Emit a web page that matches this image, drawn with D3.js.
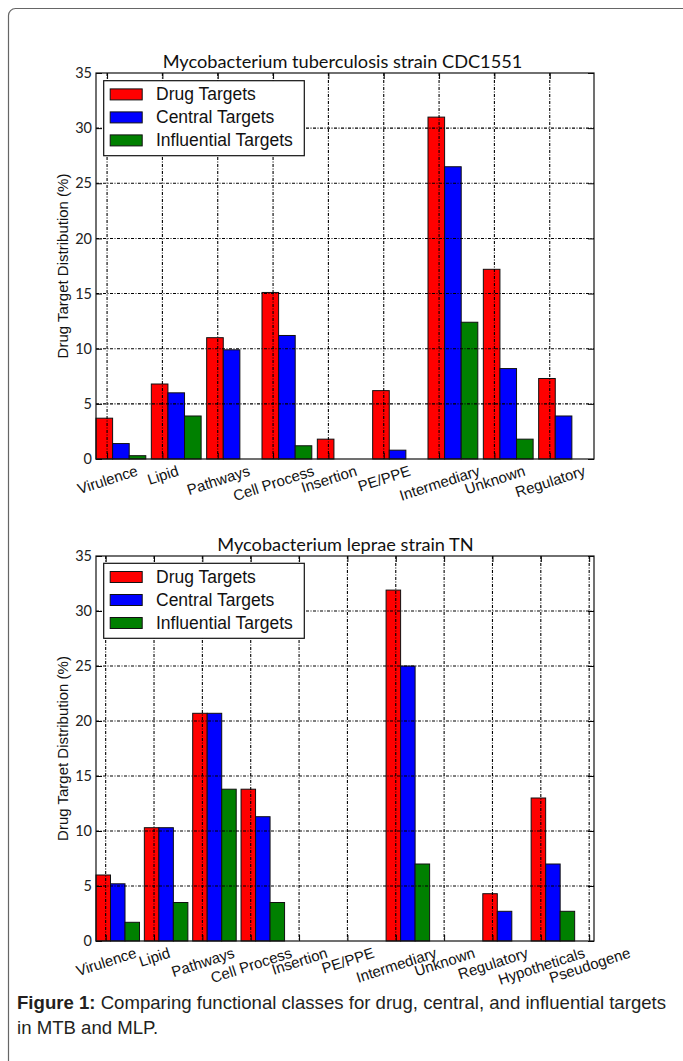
<!DOCTYPE html>
<html>
<head>
<meta charset="utf-8">
<script src="https://cdn.jsdelivr.net/npm/d3@7"></script>
<style>
  body { margin: 0; background: #fff; }
  svg { display: block; }
</style>
</head>
<body>
<svg id="drawing_region"></svg>
<script>
// values (percent)
const seriesNames = ['Drug Targets', 'Central Targets', 'Influential Targets'];
const seriesColors = ['#ff0000', '#0000ff', '#008000'];
const yTicks = [0, 5, 10, 15, 20, 25, 30, 35];

const mtbCategories = ['Virulence', 'Lipid', 'Pathways', 'Cell Process', 'Insertion',
    'PE/PPE', 'Intermediary', 'Unknown', 'Regulatory'];
const mtbDrug        = [3.7, 6.8, 11.0, 15.1, 1.8, 6.2, 31.0, 17.2, 7.3];
const mtbCentral     = [1.4, 6.0,  9.9, 11.2, 0.0, 0.8, 26.5,  8.2, 3.9];
const mtbInfluential = [0.3, 3.9,  0.0,  1.2, 0.0, 0.0, 12.4,  1.8, 0.0];

const mlpCategories = ['Virulence', 'Lipid', 'Pathways', 'Cell Process', 'Insertion',
    'PE/PPE', 'Intermediary', 'Unknown', 'Regulatory', 'Hypotheticals', 'Pseudogene'];
const mlpDrug        = [6.0, 10.3, 20.7, 13.8, 0, 0, 31.9, 0, 4.3, 13.0, 0];
const mlpCentral     = [5.2, 10.3, 20.7, 11.3, 0, 0, 25.0, 0, 2.7,  7.0, 0];
const mlpInfluential = [1.7,  3.5, 13.8,  3.5, 0, 0,  7.0, 0, 0.0,  2.7, 0];

const svg = d3.select('#drawing_region')
    .attr('width', 683)
    .attr('height', 1061);

// figure frame
svg.append('rect')
    .attr('x', 8.5).attr('y', 8.5)
    .attr('width', 720).attr('height', 1100)
    .attr('rx', 7)
    .attr('fill', 'none')
    .attr('stroke', '#666')
    .attr('stroke-width', 1.2);

class GroupedBarchart {

    constructor( config, categories, series ) {
        this.config = config;
        this.categories = categories;
        this.series = series;
        this.init();
    }

    init() {
        let self = this;
        const c = self.config;

        self.chart = svg.append('g');

        self.xscale = d3.scaleLinear()
            .domain([0, c.xmax])
            .range([c.left, c.right]);

        self.yscale = d3.scaleLinear()
            .domain([0, 35])
            .range([c.bottom, c.top]);

        self.tickPos = self.categories.map((d, i) => i + 0.2);
    }

    render() {
        let self = this;
        const c = self.config;
        const x = self.xscale, y = self.yscale;
        const bw = 0.3;

        // bars
        self.series.forEach((values, k) => {
            self.chart.append('g').selectAll('rect')
                .data(values)
                .enter()
                .append('rect')
                .attr('x', (d, i) => x(i + k * bw))
                .attr('y', d => y(d))
                .attr('width', x(bw) - x(0))
                .attr('height', d => y(0) - y(d))
                .attr('fill', seriesColors[k])
                .attr('stroke', '#111')
                .attr('stroke-width', 1);
        });

        // grid on top of the bars
        const grid = self.chart.append('g')
            .attr('stroke', '#000')
            .attr('stroke-width', 1.1)
            .attr('stroke-dasharray', '3,1.5,1,1.5');
        grid.selectAll('line.v')
            .data(self.tickPos)
            .enter().append('line')
            .attr('x1', d => x(d)).attr('x2', d => x(d))
            .attr('y1', c.top).attr('y2', c.bottom);
        grid.selectAll('line.h')
            .data(yTicks.slice(1, -1))
            .enter().append('line')
            .attr('x1', c.left).attr('x2', c.right)
            .attr('y1', d => y(d)).attr('y2', d => y(d));

        // axes, ticks pointing inwards
        const yaxisL = d3.axisLeft(y).tickValues(yTicks)
            .tickSizeInner(-6).tickSizeOuter(0).tickPadding(4);
        const yaxisR = d3.axisRight(y).tickValues(yTicks)
            .tickSizeInner(-6).tickSizeOuter(0).tickFormat('');
        const xaxisB = d3.axisBottom(x).tickValues(self.tickPos)
            .tickSizeInner(-6).tickSizeOuter(0)
            .tickFormat((d, i) => self.categories[i]);
        const xaxisT = d3.axisTop(x).tickValues(self.tickPos)
            .tickSizeInner(-6).tickSizeOuter(0).tickFormat('');

        const gl = self.chart.append('g')
            .attr('transform', `translate(${c.left},0)`).call(yaxisL);
        self.chart.append('g')
            .attr('transform', `translate(${c.right},0)`).call(yaxisR);
        const gb = self.chart.append('g')
            .attr('transform', `translate(0,${c.bottom})`).call(xaxisB);
        self.chart.append('g')
            .attr('transform', `translate(0,${c.top})`).call(xaxisT);

        self.chart.selectAll('.domain').remove();
        self.chart.selectAll('.tick line')
            .attr('stroke', '#000').attr('stroke-width', 1);

        gl.selectAll('text')
            .attr('font-family', 'Lato, sans-serif')
            .attr('font-size', 14.5)
            .attr('fill', '#222');

        const ang = 18 * Math.PI / 180;
        const fs = 15;
        gb.selectAll('text')
            .attr('font-family', '"Liberation Sans", Arial, sans-serif')
            .attr('font-size', fs)
            .attr('fill', '#111')
            .attr('text-anchor', 'middle')
            .attr('x', 0).attr('y', 0).attr('dy', '0.35em')
            .attr('transform', function() {
                const w = this.getComputedTextLength();
                const cy = 4 + (w * Math.sin(ang) + fs * Math.cos(ang)) / 2;
                return `translate(0,${cy}) rotate(-18)`;
            });

        // frame
        self.chart.append('rect')
            .attr('x', c.left).attr('y', c.top)
            .attr('width', c.right - c.left)
            .attr('height', c.bottom - c.top)
            .attr('fill', 'none')
            .attr('stroke', '#111')
            .attr('stroke-width', 1.2);

        // title
        self.chart.append('text')
            .attr('x', c.titleX).attr('y', c.titleY)
            .attr('text-anchor', 'middle')
            .attr('font-family', 'Lato, sans-serif')
            .attr('font-size', 18.2)
            .attr('fill', '#111')
            .text(c.title);

        // y label
        self.chart.append('text')
            .attr('transform', `translate(68,${(c.top + c.bottom) / 2}) rotate(-90)`)
            .attr('text-anchor', 'middle')
            .attr('font-family', '"Liberation Sans", Arial, sans-serif')
            .attr('font-size', 15)
            .attr('fill', '#111')
            .text('Drug Target Distribution (%)');

        // legend
        const lg = self.chart.append('g')
            .attr('transform', `translate(${c.left + 7.7},${c.top + c.legendDy})`);
        lg.append('rect')
            .attr('width', 200.6).attr('height', 75)
            .attr('fill', '#fff')
            .attr('stroke', '#111')
            .attr('stroke-width', 1.2);
        seriesNames.forEach((name, k) => {
            const cy = 13.7 + k * 23;
            lg.append('rect')
                .attr('x', 6.5).attr('y', cy - 5.5)
                .attr('width', 32).attr('height', 11)
                .attr('fill', seriesColors[k])
                .attr('stroke', '#111');
            lg.append('text')
                .attr('x', 52.3).attr('y', cy + 6)
                .attr('font-family', '"Liberation Sans", Arial, sans-serif')
                .attr('font-size', 17.5)
                .attr('fill', '#111')
                .text(name);
        });
    }
}

const mtbChart = new GroupedBarchart({
    left: 96, right: 594, top: 73, bottom: 459, xmax: 9,
    title: 'Mycobacterium tuberculosis strain CDC1551', titleX: 342.5, titleY: 68,
    legendDy: 7.7
}, mtbCategories, [mtbDrug, mtbCentral, mtbInfluential]);
mtbChart.render();

const mlpChart = new GroupedBarchart({
    left: 96, right: 594, top: 556, bottom: 941, xmax: 10.3,
    title: 'Mycobacterium leprae strain TN', titleX: 345.5, titleY: 551,
    legendDy: 7.3
}, mlpCategories, [mlpDrug, mlpCentral, mlpInfluential]);
mlpChart.render();

// caption
const cap = svg.append('g')
    .attr('font-family', '"Liberation Sans", Arial, sans-serif')
    .attr('font-size', 18.6)
    .attr('fill', '#231f20');
const line1 = cap.append('text').attr('x', 17).attr('y', 1009);
line1.append('tspan').attr('font-weight', 'bold').text('Figure 1:');
line1.append('tspan').text(' Comparing functional classes for drug, central, and influential targets');
cap.append('text').attr('x', 17).attr('y', 1034).text('in MTB and MLP.');
</script>
</body>
</html>
